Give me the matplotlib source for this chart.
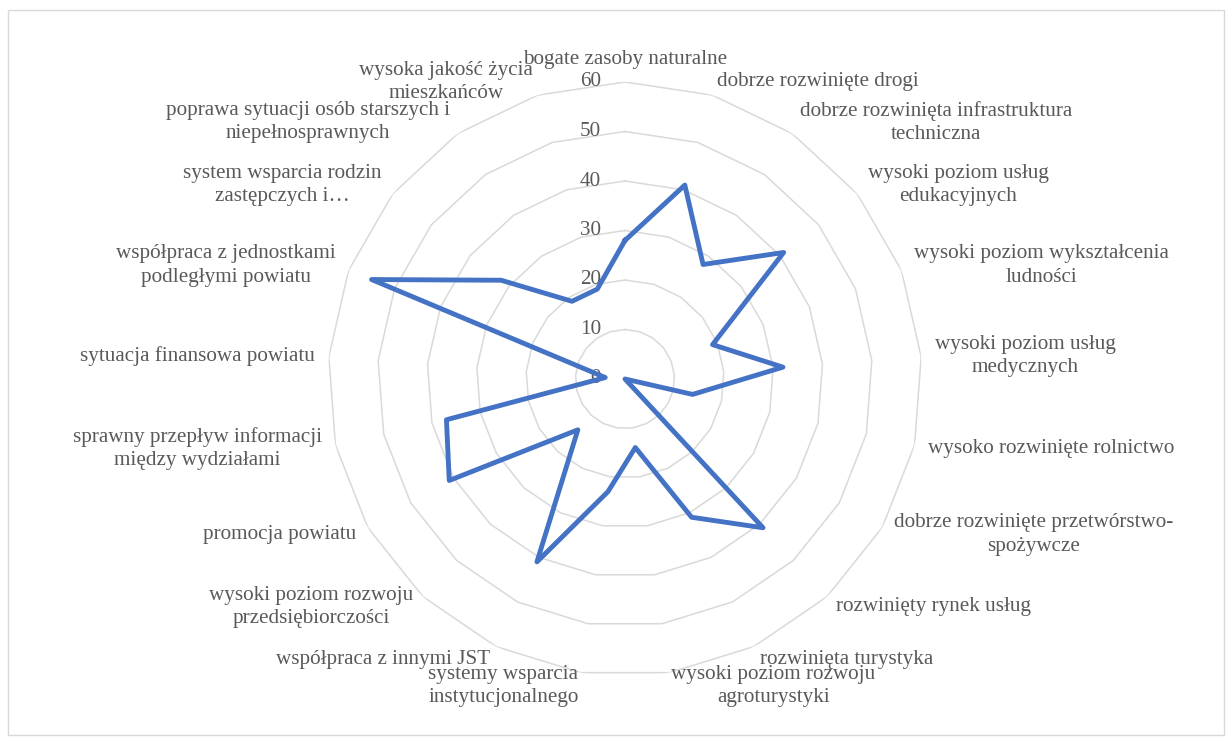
import numpy as np
import matplotlib.pyplot as plt
from matplotlib.patches import Rectangle
from matplotlib.transforms import offset_copy

categories = [
    'bogate zasoby naturalne',
    'dobrze rozwinięte drogi',
    'dobrze rozwinięta infrastruktura\ntechniczna',
    'wysoki poziom usług\nedukacyjnych',
    'wysoki poziom wykształcenia\nludności',
    'wysoki poziom usług\nmedycznych',
    'wysoko rozwinięte rolnictwo',
    'dobrze rozwinięte przetwórstwo-\nspożywcze',
    'rozwinięty rynek usług',
    'rozwinięta turystyka',
    'wysoki poziom rozwoju\nagroturystyki',
    'systemy wsparcia\ninstytucjonalnego',
    'współpraca z innymi JST',
    'wysoki poziom rozwoju\nprzedsiębiorczości',
    'promocja powiatu',
    'sprawny przepływ informacji\nmiędzy wydziałami',
    'sytuacja finansowa powiatu',
    'współpraca z jednostkami\npodległymi powiatu',
    'system wsparcia rodzin\nzastępczych i…',
    'poprawa sytuacji osób starszych i\nniepełnosprawnych',
    'wysoka jakość życia\nmieszkańców',
]
values = [28, 41, 28, 41, 19, 32, 14, 0, 41, 31, 14, 23, 41, 14, 41, 37, 4, 55, 32, 19, 19]
rings = [10, 20, 30, 40, 50, 60]
tick_labels = ['0', '10', '20', '30', '40', '50', '60']

plt.rcParams['font.family'] = ['Liberation Serif', 'DejaVu Serif']
text_color = '#595959'
fs = 15.2

n = len(categories)
angles = np.arange(n) * 2 * np.pi / n
closed = np.append(angles, angles[0])

fig = plt.figure(figsize=(12.31, 7.40), dpi=100)
fig.patches.append(Rectangle((8 / 1231, 5 / 740), 1216 / 1231, 725 / 740,
                             transform=fig.transFigure, fill=False,
                             edgecolor='#d9d9d9', lw=1))

# centre at (625, 379) px, radius 297 px for 60
ax = fig.add_axes([328 / 1231, 64 / 740, 594 / 1231, 594 / 740], projection='polar')
ax.set_theta_zero_location('N')
ax.set_theta_direction(-1)
ax.set_ylim(0, 60)
ax.axis('off')

for r in rings:
    ax.plot(closed, [r] * (n + 1), color='#d9d9d9', lw=1.1, zorder=1)

ax.plot(closed, values + values[:1], color='#4472C4', lw=3.5, zorder=3,
        solid_joinstyle='round')

trans = offset_copy(ax.transData, fig=fig, x=-24, y=0, units='dots')
for i, lab in enumerate(tick_labels):
    ax.text(0, i * 10, lab, transform=trans, ha='right', va='center',
            fontsize=fs, color=text_color, zorder=2)

for a, lab in zip(angles, categories):
    s = np.sin(a)
    if abs(s) < 0.01:
        ax.text(a, 62.7, lab, ha='center', va='bottom', fontsize=fs,
                color=text_color, clip_on=False)
        continue
    ha = 'left' if s > 0 else 'right'
    ax.text(a, 62.8, lab, ha=ha, va='center', multialignment='center',
            fontsize=fs, color=text_color, clip_on=False, linespacing=1.3)

fig.savefig('out.png', dpi=100)
